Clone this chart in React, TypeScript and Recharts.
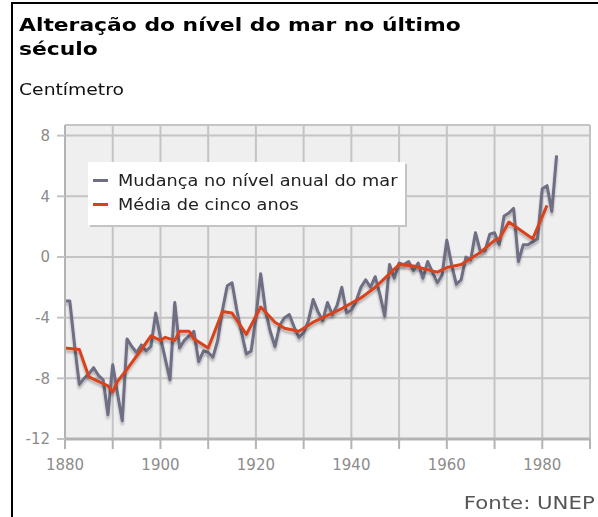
import React from "react";
import { LineChart, Line, XAxis, YAxis, CartesianGrid } from "recharts";

const annualYears = [
  1880, 1881, 1882, 1883, 1884, 1885, 1886, 1887, 1888, 1889,
  1890, 1891, 1892, 1893, 1894, 1895, 1896, 1897, 1898, 1899,
  1900, 1901, 1902, 1903, 1904, 1905, 1906, 1907, 1908, 1909,
  1910, 1911, 1912, 1913, 1914, 1915, 1916, 1917, 1918, 1919,
  1920, 1921, 1922, 1923, 1924, 1925, 1926, 1927, 1928, 1929,
  1930, 1931, 1932, 1933, 1934, 1935, 1936, 1937, 1938, 1939,
  1940, 1941, 1942, 1943, 1944, 1945, 1946, 1947, 1948, 1949,
  1950, 1951, 1952, 1953, 1954, 1955, 1956, 1957, 1958, 1959,
  1960, 1961, 1962, 1963, 1964, 1965, 1966, 1967, 1968, 1969,
  1970, 1971, 1972, 1973, 1974, 1975, 1976, 1977, 1978, 1979,
  1980, 1981, 1982, 1983,
];

const annualLevels = [
  -2.9, -2.9, -5.8, -8.4, -8.0, -7.7, -7.3, -7.8, -8.1, -10.4,
  -7.1, -9.0, -10.8, -5.4, -5.9, -6.3, -5.8, -6.2, -5.9, -3.7,
  -5.3, -6.7, -8.1, -3.0, -6.0, -5.5, -5.2, -4.9, -6.9, -6.2,
  -6.3, -6.6, -5.5, -3.5, -1.9, -1.7, -3.5, -5.0, -6.4, -6.2,
  -4.0, -1.1, -3.5, -4.9, -5.9, -4.5, -4.0, -3.8, -4.6, -5.3,
  -5.0, -4.2, -2.8, -3.6, -4.2, -3.0, -3.8, -3.2, -2.0, -3.7,
  -3.5, -2.9, -2.0, -1.5, -2.0, -1.3, -2.5, -3.9, -0.5, -1.4,
  -0.4, -0.5, -0.3, -0.9, -0.4, -1.4, -0.3, -1.0, -1.7, -1.2,
  1.1, -0.5, -1.8, -1.5, 0.0, -0.2, 1.6, 0.4, 0.4, 1.5,
  1.6, 0.8, 2.7, 2.9, 3.2, -0.3, 0.8, 0.8, 1.0, 1.2,
  4.5, 4.7, 3.0, 6.7,
];

const meanYears = [
  1880, 1883, 1885, 1887, 1889, 1890, 1891, 1893, 1896, 1898,
  1900, 1901, 1903, 1904, 1906, 1907, 1910, 1913, 1915, 1918,
  1921, 1924, 1926, 1929, 1932, 1934, 1936, 1938, 1942, 1945,
  1950, 1953, 1958, 1960, 1963, 1967, 1970, 1971, 1973, 1978,
  1981,
];

const meanLevels = [
  -6.0, -6.1, -7.9, -8.2, -8.5, -8.9, -8.2, -7.4, -6.1, -5.2,
  -5.5, -5.3, -5.5, -4.9, -4.9, -5.4, -6.0, -3.6, -3.7, -5.1,
  -3.3, -4.3, -4.7, -4.9, -4.3, -4.0, -3.7, -3.4, -2.7, -2.0,
  -0.5, -0.6, -1.0, -0.7, -0.5, 0.3, 1.1, 1.2, 2.3, 1.2,
  3.4,
];

const xTicks = [1880, 1890, 1900, 1910, 1920, 1930, 1940, 1950, 1960, 1970, 1980, 1990];
const xLabels = [1880, 1900, 1920, 1940, 1960, 1980];
const yTicks = [-12, -8, -4, 0, 4, 8];

const titleLines = ["Alteração do nível do mar no último", "século"];
const unitLabel = "Centímetro";
const sourceLabel = "Fonte: UNEP";
const seriesNames = ["Mudança no nível anual do mar", "Média de cinco anos"];

const annualData = annualYears.map((y, i) => ({ year: y, level: annualLevels[i] }));
const meanData = meanYears.map((y, i) => ({ year: y, mean: meanLevels[i] }));

const GREY = "#6e6e84";
const RED = "#d8421b";
const FONT = "'DejaVu Sans', Verdana, sans-serif";

function LegendBox() {
  return (
    <div
      style={{
        position: "absolute",
        left: 88,
        top: 162,
        width: 317,
        height: 63,
        background: "#ffffff",
        boxShadow: "2px 2px 0 #c4c4c4",
        fontFamily: FONT,
      }}
    >
      {[GREY, RED].map((c, i) => (
        <div key={i} style={{ position: "absolute", left: 0, top: 9 + i * 24, height: 20, width: 317 }}>
          <div style={{ position: "absolute", left: 5, top: 8, width: 15, height: 3, background: c }} />
          <div
            style={{
              position: "absolute",
              left: 30,
              top: 0,
              fontSize: 15,
              lineHeight: "20px",
              color: "#222",
              whiteSpace: "nowrap",
              transform: "scaleX(1.18)",
              transformOrigin: "left center",
            }}
          >
            {seriesNames[i]}
          </div>
        </div>
      ))}
    </div>
  );
}

export default function App() {
  return (
    <div
      style={{
        position: "absolute",
        left: 0,
        top: 0,
        width: 598,
        height: 517,
        background: "#fff",
        overflow: "hidden",
        fontFamily: FONT,
      }}
    >
      <div
        style={{
          position: "absolute",
          left: 11,
          top: 2,
          width: 600,
          height: 600,
          borderLeft: "2px solid #000",
          borderTop: "2px solid #000",
        }}
      />
      <div style={{ position: "absolute", left: 0, top: 0 }}>
        <LineChart
          width={598}
          height={517}
          data={annualData}
          margin={{ top: 125, right: 8, bottom: 0, left: 0 }}
        >
          <defs>
            <filter id="lineShadow" x="-5%" y="-5%" width="110%" height="120%">
              <feDropShadow dx="0" dy="3" stdDeviation="1.2" floodColor="#000" floodOpacity="0.25" />
            </filter>
          </defs>
          <CartesianGrid stroke="#c4c4c4" strokeWidth={2} fill="#efefef" />
          <XAxis
            dataKey="year"
            type="number"
            domain={[1880, 1990]}
            ticks={xTicks}
            allowDuplicatedCategory={false}
            height={78}
            tickSize={10}
            tickMargin={10}
            axisLine={{ stroke: "#b3b3b3", strokeWidth: 3 }}
            tickLine={{ stroke: "#b3b3b3", strokeWidth: 2 }}
            tick={{ fill: "#8c8c8c", fontSize: 15, fontFamily: FONT }}
            tickFormatter={(v: number) => (xLabels.includes(v) ? String(v) : "")}
          />
          <YAxis
            type="number"
            domain={[-12, 8.7]}
            ticks={yTicks}
            width={65}
            tickSize={8}
            tickMargin={7}
            axisLine={{ stroke: "#b3b3b3", strokeWidth: 2 }}
            tickLine={{ stroke: "#c4c4c4", strokeWidth: 2 }}
            tick={{ fill: "#8c8c8c", fontSize: 15, fontFamily: FONT }}
          />
          <Line
            data={annualData}
            dataKey="level"
            name={seriesNames[0]}
            stroke={GREY}
            strokeWidth={3}
            dot={false}
            filter="url(#lineShadow)"
            strokeLinejoin="round"
            isAnimationActive={false}
          />
          <Line
            data={meanData}
            dataKey="mean"
            name={seriesNames[1]}
            stroke={RED}
            strokeWidth={3}
            dot={false}
            filter="url(#lineShadow)"
            strokeLinejoin="round"
            isAnimationActive={false}
          />
        </LineChart>
      </div>
      <LegendBox />
      <div
        style={{
          position: "absolute",
          left: 19,
          top: 13,
          fontSize: 18.5,
          fontWeight: "bold",
          lineHeight: "24px",
          color: "#000",
          whiteSpace: "nowrap",
          transform: "scaleX(1.18)",
          transformOrigin: "left top",
        }}
      >
        {titleLines.map((t, i) => (
          <div key={i}>{t}</div>
        ))}
      </div>
      <div
        style={{
          position: "absolute",
          left: 19,
          top: 80,
          fontSize: 15,
          lineHeight: "20px",
          color: "#111",
          whiteSpace: "nowrap",
          transform: "scaleX(1.25)",
          transformOrigin: "left top",
        }}
      >
        {unitLabel}
      </div>
      <div
        style={{
          position: "absolute",
          right: 3,
          top: 491,
          fontSize: 17,
          lineHeight: "24px",
          color: "#555",
          whiteSpace: "nowrap",
          transform: "scaleX(1.25)",
          transformOrigin: "right top",
        }}
      >
        {sourceLabel}
      </div>
    </div>
  );
}
